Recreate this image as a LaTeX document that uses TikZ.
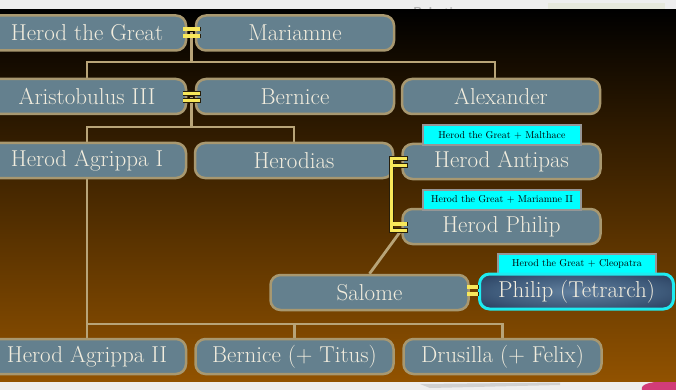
\documentclass[tikz,border=0pt]{standalone}
\usepackage{fontspec}
\usetikzlibrary{backgrounds}
\definecolor{boxfill}{RGB}{100,128,142}
\definecolor{boxline}{RGB}{168,152,112}
\definecolor{cream}{RGB}{242,237,222}
\definecolor{conn}{RGB}{184,164,120}
\definecolor{eqyellow}{RGB}{248,232,90}
\definecolor{eqdark}{RGB}{40,30,10}
\definecolor{labcyan}{RGB}{0,255,255}
\definecolor{labgrey}{RGB}{150,150,150}
\definecolor{bgmid}{RGB}{62,33,0}
\definecolor{bgbot}{RGB}{145,82,0}
\definecolor{strip}{RGB}{238,238,238}
\definecolor{stripbox}{RGB}{230,232,220}
\definecolor{smudge}{RGB}{208,208,208}
\definecolor{pinkblob}{RGB}{210,60,120}
\definecolor{tetin}{RGB}{98,128,158}
\definecolor{tetmid}{RGB}{62,90,122}
\definecolor{tetout}{RGB}{26,42,74}
\definecolor{tetline}{RGB}{30,235,240}
\pgfdeclareradialshading{tetshade}{\pgfpoint{0bp}{0bp}}{color(0bp)=(tetin); color(22bp)=(tetmid); color(44bp)=(tetout); color(100bp)=(tetout)}
\begin{document}
\begin{tikzpicture}[x=1pt,y=-1pt,
  person/.style={draw=boxline, line width=2.5pt, fill=boxfill, rounded corners=10pt,
    minimum width=198pt, minimum height=35pt, inner sep=0pt, text=cream,
    font=\fontsize{23}{26}\selectfont},
  tetrarch/.style={person, draw=tetline, line width=3pt, shading=tetshade,
    minimum width=194pt},
  parent/.style={draw=labgrey, line width=2pt, fill=labcyan, minimum width=158pt,
    minimum height=20pt, inner sep=0pt, text=black, font=\fontsize{10}{12}\selectfont},
  connline/.style={draw=conn, line width=2.8pt},
  eqout/.style={draw=eqdark, line width=0.9pt, fill=eqdark},
  eqin/.style={fill=eqyellow},
  eqsign/.pic={
    \draw[eqout] (-#1,-5.2) rectangle (#1,-1.8);
    \draw[eqout] (-#1,1.8) rectangle (#1,5.2);
    \fill[eqin] (-#1,-5.2) rectangle (#1,-1.8);
    \fill[eqin] (-#1,1.8) rectangle (#1,5.2);}
]
\useasboundingbox (0,0) rectangle (676,390);

% coordinates of marriages and junctions
\coordinate (eq1) at (191.5,32.5);
\coordinate (eq2) at (191.5,97);
\coordinate (eq3) at (472.5,290.5);
\coordinate (j1) at (191.5,62);
\coordinate (j2) at (191.5,127);
\coordinate (j3) at (87,324);
\coordinate (brfoot) at (400,232);

% people
\node[person] (hg) at (87,33) {Herod the Great};
\node[person] (mar) at (295,33) {Mariamne};
\node[person] (ari) at (87,96.5) {Aristobulus III};
\node[person] (ber) at (295,96.5) {Bernice};
\node[person] (alex) at (501,96.5) {Alexander};
\node[person] (agr1) at (87,160.5) {Herod Agrippa I};
\node[person] (hds) at (294,160.5) {Herodias};
\node[person] (ant) at (501.5,161.5) {Herod Antipas};
\node[person] (hph) at (501.5,226.5) {Herod Philip};
\node[person] (sal) at (369.5,292.5) {Salome};
\node[person] (agr2) at (87,356.5) {Herod Agrippa II};
\node[person] (bern2) at (294.5,356.5) {Bernice (+ Titus)};
\node[person] (drus) at (502.5,356.5) {Drusilla (+ Felix)};

\begin{scope}[on background layer]
% slide strips
\fill[strip] (0,0) rectangle (676,10);
\fill[stripbox] (548,3) rectangle (665,10);
\node[text=black!30, font=\sffamily\bfseries\fontsize{13}{14}\selectfont] (pal) at (440,12) {Palestine};
\fill[strip] (0,381) rectangle (676,390);
\fill[smudge] (420,384) -- (560,382.5) -- (560,385) -- (430,388) -- cycle;
\fill[pinkblob] (642,390) .. controls (640,384) and (650,381) .. (676,381) -- (676,390) -- cycle;
% background
\shade[top color=black, middle color=bgmid, bottom color=bgbot] (0,10) rectangle (676,381);
% connectors
\draw[connline] (eq1) -- (j1);
\draw[connline] (ari.north) |- (j1);
\draw[connline] (j1) -| ([xshift=-6pt]alex.north);
\draw[connline] (eq2) -- (j2);
\draw[connline] (agr1.north) |- (j2);
\draw[connline] (j2) -| (hds.north);
\draw[connline] (agr1.south) -- (agr2.north);
\draw[connline] (j3) -| (drus.north);
\draw[connline] (bern2.north) -- (bern2.north |- j3);
\draw[connline] (brfoot) -- (sal.north);
\end{scope}

% parent labels
\node[parent] (lab1) at (502,135) {Herod the Great + Malthace};
\node[parent] (lab2) at (502,199.5) {Herod the Great + Mariamne II};
\node[parent] (lab3) at (577,263.5) {Herod the Great + Cleopatra};
\node[tetrarch] (tet) at (576.5,291.5) {Philip (Tetrarch)};

% marriage signs
\pic at (eq1) {eqsign=8.5};
\pic at (eq2) {eqsign=8.5};
\pic at (eq3) {eqsign=5.5};
% bracket Herodias = Antipas / Philip
\draw[eqout] (389.5,156.5) rectangle (393,232);
\draw[eqout] (389.5,156.5) rectangle (407,160);
\draw[eqout] (389.5,163.5) rectangle (407,167);
\draw[eqout] (389.5,222) rectangle (407,225.5);
\draw[eqout] (389.5,228.5) rectangle (407,232);
\fill[eqin] (389.5,156.5) rectangle (393,232);
\fill[eqin] (389.5,156.5) rectangle (407,160);
\fill[eqin] (389.5,163.5) rectangle (407,167);
\fill[eqin] (389.5,222) rectangle (407,225.5);
\fill[eqin] (389.5,228.5) rectangle (407,232);
\end{tikzpicture}
\end{document}
